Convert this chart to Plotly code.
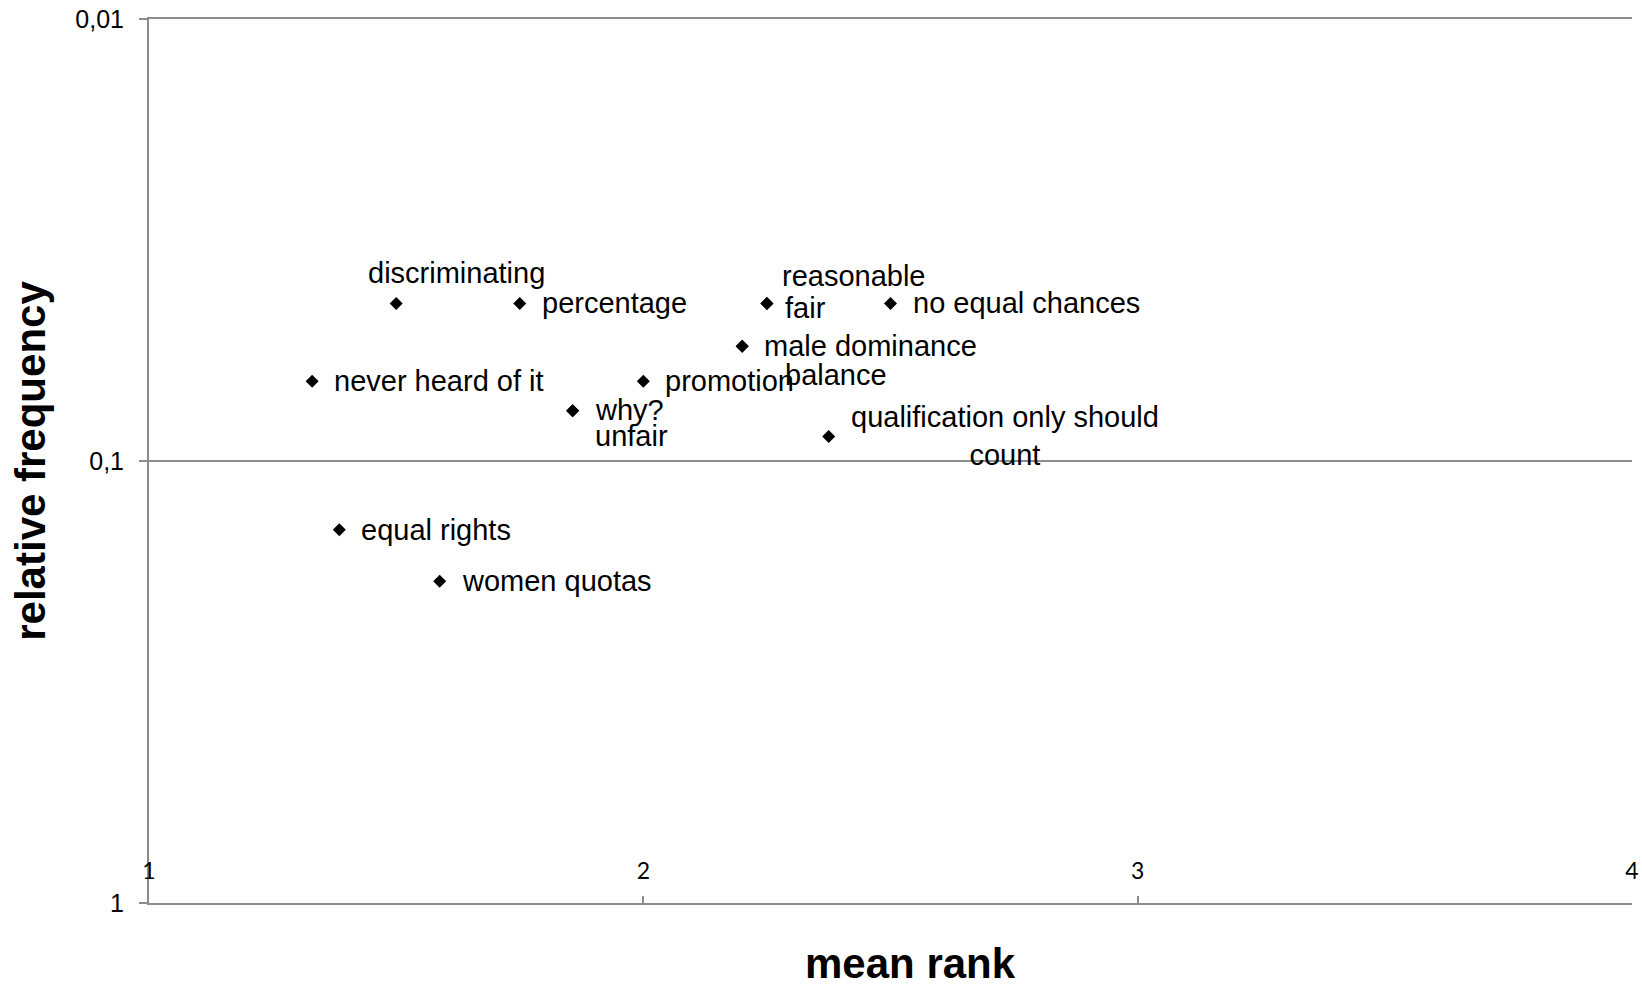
import math
import plotly.graph_objects as go

# Terms: mean rank vs. relative frequency of mention
terms = [
    "discriminating", "percentage", "reasonable", "fair", "no equal chances",
    "male dominance", "balance", "never heard of it", "promotion", "why?",
    "unfair", "qualification only should count", "equal rights", "women quotas",
]
mean_rank = [1.5, 1.75, 2.25, 2.25, 2.5, 2.2, 2.2, 1.33, 2.0, 1.857, 1.857, 2.375, 1.385, 1.588]
rel_freq = [0.044, 0.044, 0.044, 0.044, 0.044, 0.055, 0.055, 0.066, 0.066, 0.077, 0.077, 0.088, 0.143, 0.187]

y_tick_vals = [0.01, 0.1, 1]
y_tick_text = ["0,01", "0,1", "1"]
x_tick_vals = [1, 2, 3, 4]

# label placement: (xanchor, xshift px, yshift px, display text)
label_style = {
    "discriminating": ("center", 60, 30, None),
    "reasonable": ("left", 13, 27, None),
    "fair": ("left", 16, -5, None),
    "balance": ("left", 41, -29, None),
    "why?": ("left", 20, 1, None),
    "unfair": ("left", 20, -25, None),
    "qualification only should count": ("left", 20, 0, "qualification only should<br>count"),
}

GRAY = "#8c8c8c"
SANS = "Liberation Sans, Arial, sans-serif"
LABEL_FONT = dict(family=SANS, size=29, color="black")
TITLE_FONT = dict(family=SANS, size=42, color="black")

fig = go.Figure()
fig.add_trace(go.Scatter(
    x=mean_rank, y=rel_freq, mode="markers",
    marker=dict(symbol="diamond", size=10, color="black"),
    hoverinfo="text", text=terms, showlegend=False,
))

# annotations on a log axis take their y position in log10 units
for name, xv, yv in zip(terms, mean_rank, rel_freq):
    anchor, dx, dy, txt = label_style.get(name, ("left", 20, 0, None))
    fig.add_annotation(
        x=xv, y=math.log10(yv), xref="x", yref="y", text=txt or name, showarrow=False,
        xanchor=anchor, yanchor="middle", xshift=dx, yshift=dy,
        align="center", font=LABEL_FONT,
    )

# x-axis title, placed below the axis
fig.add_annotation(
    x=0.5, y=0, xref="paper", yref="paper", text="<b>mean rank</b>", showarrow=False,
    xanchor="center", yanchor="middle", xshift=20, yshift=-60, font=TITLE_FONT,
)

fig.update_layout(
    width=1642, height=990,
    margin=dict(l=149, r=10, t=19, b=87),
    paper_bgcolor="white", plot_bgcolor="white",
    font=dict(family=SANS, color="black"),
)

fig.update_xaxes(
    range=[1, 4], tickvals=x_tick_vals, ticktext=[str(v) for v in x_tick_vals],
    showgrid=False, zeroline=False, automargin=False,
    showline=True, linecolor=GRAY, linewidth=2, mirror=True,
    ticks="inside", ticklen=7, tickwidth=2, tickcolor=GRAY,
    ticklabelposition="inside", ticklabeloverflow="allow", ticklabelstandoff=14,
    tickfont=dict(family="Lato, Open Sans, sans-serif", size=23, color="black"),
)

fig.update_yaxes(
    type="log", range=[0, -2], tickvals=y_tick_vals, ticktext=y_tick_text,
    showgrid=True, gridcolor=GRAY, gridwidth=2, zeroline=False, automargin=False,
    showline=True, linecolor=GRAY, linewidth=2,
    ticks="outside", ticklen=8, tickwidth=2, tickcolor=GRAY, ticklabelstandoff=10,
    tickfont=dict(family=SANS, size=25, color="black"),
    title=dict(text="<b>relative frequency</b>", standoff=17, font=TITLE_FONT),
)

fig.write_html("out.html")
